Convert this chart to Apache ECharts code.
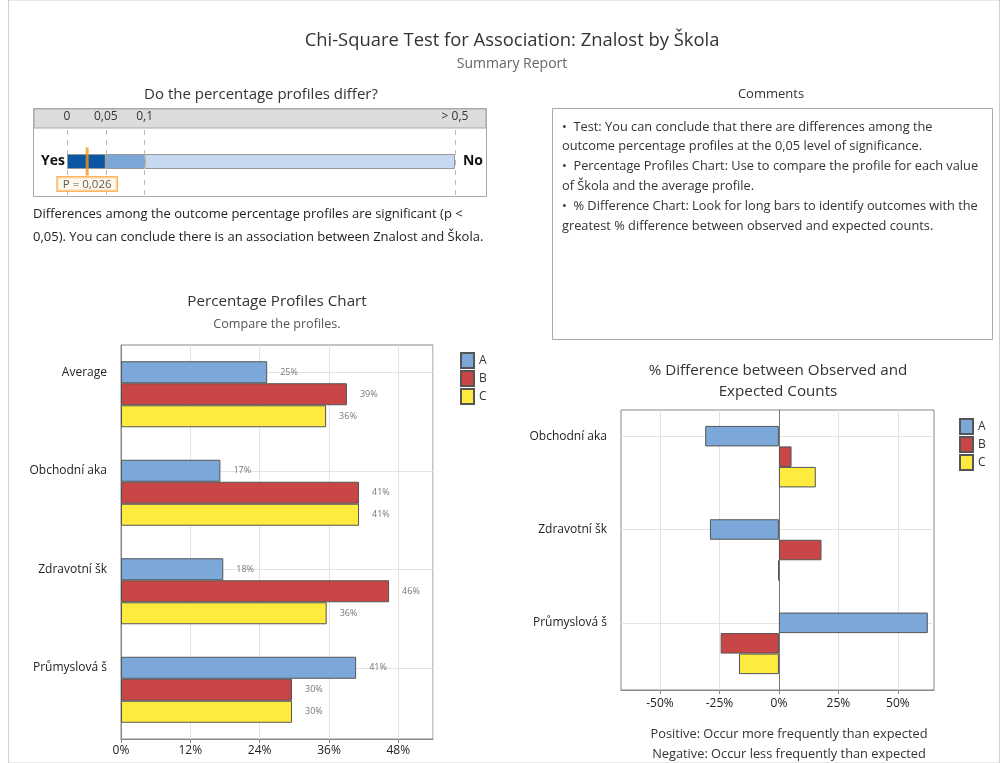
<!DOCTYPE html>
<html>
<head>
<meta charset="UTF-8">
<title>Chi-Square Test for Association</title>
<style type="text/css">
  body { margin: 0; background: #fff; }
  #main { width: 1008px; height: 763px; }
</style>
</head>
<body>
<div id="main"></div>
<script src="https://cdn.jsdelivr.net/npm/echarts@6/dist/echarts.min.js"></script>
<script type="text/javascript">
// percentage profiles (%)
var profileCats = ['Average', 'Obchodní aka', 'Zdravotní šk', 'Průmyslová š'];
var profileA = [25.3, 17.2, 17.7, 40.7];
var profileB = [39.1, 41.2, 46.4, 29.6];
var profileC = [35.5, 41.2, 35.6, 29.6];

// % difference between observed and expected counts
var diffCats = ['Obchodní aka', 'Zdravotní šk', 'Průmyslová š'];
var diffA = [-31.0, -29.0, 62.6];
var diffB = [5.3, 17.9, -24.5];
var diffC = [15.5, -0.3, -16.8];
var diffTicks = [-50, -25, 0, 25, 50];

// p-value scale
var pBands = [0.05, 0.05, 0.4];
var pTicks = [0, 0.05, 0.1, 0.5];
var pTickLabels = ['0', '0,05', '0,1', '> 0,5'];
var pValue = 0.026;

var FONT = '"Open Sans", "Noto Sans", sans-serif';
var colA = '#7BA7D9', colB = '#C84646', colC = '#FFEA40';
var edge = '#555';

var myChart = echarts.init(document.getElementById('main'));

function bars(name, xi, vals, col, w, lbl, lines) {
  var s = {
    type: 'bar', name: name, xAxisIndex: xi, yAxisIndex: xi,
    data: vals, barWidth: w, barGap: '0%',
    itemStyle: { color: col, borderColor: edge, borderWidth: 1 },
    label: lbl ? {
      show: true, position: 'right', distance: 13,
      fontSize: 9, color: '#777', fontFamily: FONT,
      formatter: function (p) { return Math.round(p.value) + '%'; }
    } : { show: false }
  };
  if (lines) {
    // marker lines follow this series' bar offset, so they pass through bar A
    s.markLine = {
      silent: true, symbol: 'none', z: 1, label: { show: false },
      lineStyle: { color: '#e3e3e3', type: 'solid', width: 1 },
      data: lines
    };
  }
  return s;
}

var txt = function (x, y, s, size, opt) {
  opt = opt || {};
  return {
    type: 'text', x: x, y: y, z: 10,
    style: {
      text: s, fontSize: size, fontFamily: FONT,
      fontWeight: opt.bold ? 'bold' : 'normal',
      fill: opt.fill || '#333', align: opt.align || 'center',
      verticalAlign: opt.va || 'middle', lineHeight: opt.lh
    }
  };
};

var option = {
  animation: false,
  textStyle: { fontFamily: FONT },
  graphic: [
    { type: 'rect', shape: { x: 8.5, y: 0, width: 991, height: 763 }, style: { fill: 'none', stroke: '#d0d0d0' }, z: -20 },
    txt(512, 41, 'Chi-Square Test for Association: Znalost by Škola', 18.4, { fill: '#333' }),
    txt(512, 64, 'Summary Report', 14, { fill: '#666' }),
    txt(261, 95, 'Do the percentage profiles differ?', 15, { fill: '#333' }),
    { type: 'rect', shape: { x: 33.5, y: 108.5, width: 453, height: 88 }, style: { fill: '#fff', stroke: '#aaa' }, z: -10 },
    { type: 'rect', shape: { x: 34, y: 109, width: 452, height: 19 }, style: { fill: '#dcdcdc', stroke: '#aaa' }, z: -9 },
    txt(53, 161, 'Yes', 14, { bold: true, fill: '#111' }),
    txt(473, 161, 'No', 14, { bold: true, fill: '#111' }),
    txt(33, 203, 'Differences among the outcome percentage profiles are significant (p <\n0,05). You can conclude there is an association between Znalost and Škola.', 13, { align: 'left', va: 'top', lh: 23, fill: '#222' }),
    txt(771, 94, 'Comments', 13, { fill: '#333' }),
    { type: 'rect', shape: { x: 552.5, y: 108.5, width: 440, height: 231 }, style: { fill: '#fff', stroke: '#aaa' }, z: -10 },
    txt(562, 117, '•  Test: You can conclude that there are differences among the\noutcome percentage profiles at the 0,05 level of significance.\n•  Percentage Profiles Chart: Use to compare the profile for each value\nof Škola and the average profile.\n•  % Difference Chart: Look for long bars to identify outcomes with the\ngreatest % difference between observed and expected counts.', 12.8, { align: 'left', va: 'top', lh: 19.8, fill: '#333' }),
    txt(277, 302, 'Percentage Profiles Chart', 15.2, { fill: '#333' }),
    txt(277, 324, 'Compare the profiles.', 12.6, { fill: '#555' }),
    txt(778, 381, '% Difference between Observed and\nExpected Counts', 15.2, { fill: '#333', lh: 21 }),
    txt(789, 744, 'Positive: Occur more frequently than expected\nNegative: Occur less frequently than expected', 12.8, { fill: '#333', lh: 20 })
  ],
  legend: [
    { data: ['A', 'B', 'C'], orient: 'vertical', left: 455, top: 347, icon: 'rect',
      itemWidth: 13, itemHeight: 15, itemGap: 1, textStyle: { fontSize: 12, color: '#333' } },
    { data: ['A', 'B', 'C'], orient: 'vertical', left: 954, top: 413, icon: 'rect',
      itemWidth: 13, itemHeight: 15, itemGap: 1, textStyle: { fontSize: 12, color: '#333' } }
  ],
  grid: [
    { left: 121, top: 345, width: 312, height: 394, show: true, borderColor: '#888', backgroundColor: '#fff' },
    { left: 621, top: 410, width: 313, height: 280, show: true, borderColor: '#888', backgroundColor: '#fff' },
    { left: 67, top: 128, width: 388, height: 67 }
  ],
  xAxis: [
    { type: 'value', gridIndex: 0, min: 0, max: 54, interval: 12,
      axisLine: { show: true, lineStyle: { color: '#888' } },
      axisTick: { show: true, length: 4, lineStyle: { color: '#888' } },
      axisLabel: { formatter: '{value}%', color: '#222', fontSize: 12, showMaxLabel: false, margin: 6 },
      splitLine: { lineStyle: { color: '#e3e3e3' } } },
    { type: 'value', gridIndex: 1, min: -66.4, max: 65.2,
      axisLine: { show: true, lineStyle: { color: '#888' } },
      axisTick: { show: true, length: 4, customValues: diffTicks, lineStyle: { color: '#888' } },
      axisLabel: { customValues: diffTicks, formatter: '{value}%', color: '#222', fontSize: 12, margin: 8 },
      splitLine: { lineStyle: { color: '#e3e3e3' } } },
    { type: 'value', gridIndex: 2, min: 0, max: 0.5, position: 'top',
      axisLine: { show: false }, axisTick: { show: false }, splitLine: { show: false },
      axisLabel: { customValues: pTicks, margin: 5, color: '#333', fontSize: 12,
        formatter: function (v) { return pTickLabels[pTicks.indexOf(v)]; } } }
  ],
  yAxis: [
    // labels lifted by one bar height so they sit beside bar A
    { type: 'category', gridIndex: 0, data: profileCats, inverse: true,
      axisLine: { lineStyle: { color: '#888' } },
      axisTick: { show: false },
      axisLabel: { color: '#222', fontSize: 12, margin: 14, verticalAlign: 'bottom', lineHeight: 44 },
      splitLine: { show: false } },
    { type: 'category', gridIndex: 1, data: diffCats, inverse: true,
      axisLine: { lineStyle: { color: '#888' } },
      axisTick: { show: false },
      axisLabel: { color: '#222', fontSize: 12, margin: 14, verticalAlign: 'bottom', lineHeight: 41 },
      splitLine: { show: false } },
    { type: 'category', gridIndex: 2, data: ['p'], show: false }
  ],
  series: [
    bars('A', 0, profileA, colA, 22, true, profileCats.map(function (c) { return { yAxis: c }; })),
    bars('B', 0, profileB, colB, 22, true),
    bars('C', 0, profileC, colC, 22, true),

    bars('A', 1, diffA, colA, 20.5, false, diffCats.map(function (c) { return { yAxis: c }; })),
    bars('B', 1, diffB, colB, 20.5, false, [{ xAxis: 0, lineStyle: { color: '#777' } }]),
    bars('C', 1, diffC, colC, 20.5, false),

    { type: 'bar', name: 'p1', xAxisIndex: 2, yAxisIndex: 2, stack: 'p', data: [pBands[0]], barWidth: 15,
      itemStyle: { color: '#0B57A4', borderColor: '#999', borderWidth: 1 },
      markLine: { silent: true, symbol: 'none', label: { show: false }, z: 1,
        lineStyle: { color: '#bbb', type: [5, 5], width: 1 },
        data: pTicks.map(function (v) { return { xAxis: v }; }) } },
    { type: 'bar', name: 'p2', xAxisIndex: 2, yAxisIndex: 2, stack: 'p', data: [pBands[1]], barWidth: 15,
      itemStyle: { color: '#7BA7D9', borderColor: '#999', borderWidth: 1 } },
    { type: 'bar', name: 'p3', xAxisIndex: 2, yAxisIndex: 2, stack: 'p', data: [pBands[2]], barWidth: 15,
      itemStyle: { color: '#C6D9F1', borderColor: '#999', borderWidth: 1 } },
    { type: 'scatter', xAxisIndex: 2, yAxisIndex: 2, z: 5,
      data: [[pValue, 'p']], symbol: 'rect', symbolSize: [3, 28],
      itemStyle: { color: '#F7941D' },
      label: { show: true, position: 'bottom', distance: 2,
        formatter: 'P = ' + pValue.toFixed(3).replace('.', ','),
        fontSize: 11.5, color: '#333', backgroundColor: '#FFF6EA',
        borderColor: '#F7A540', borderWidth: 1.5, padding: [1, 5, 0, 5] } }
  ]
};
myChart.setOption(option);
</script>
</body>
</html>
